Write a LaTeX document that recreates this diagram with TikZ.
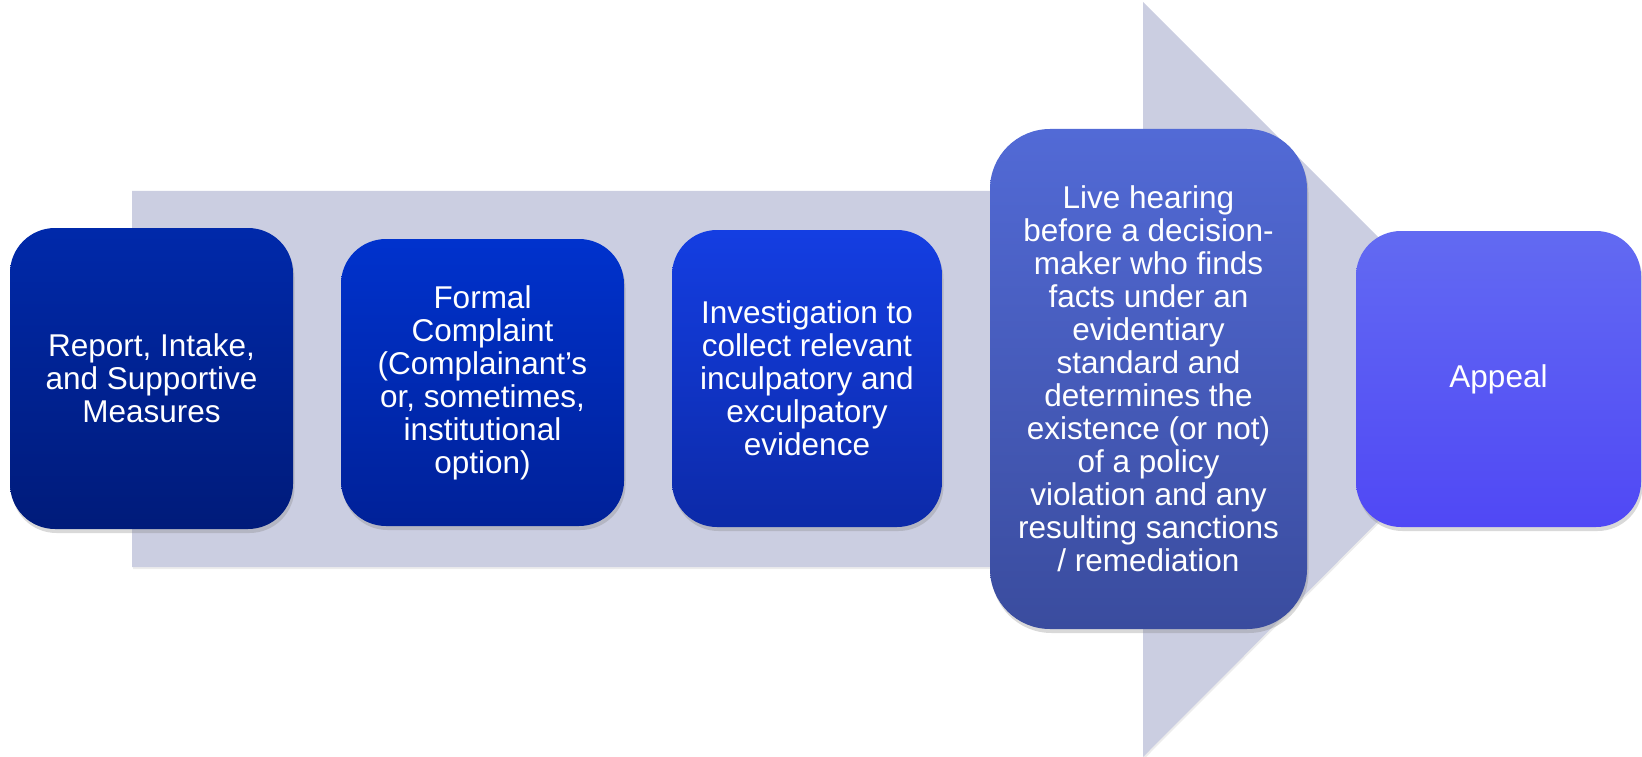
\documentclass[tikz,border=0pt]{standalone}
\usepackage{fontspec}
\setmainfont{Liberation Sans}
\usepackage{xcolor}
\usetikzlibrary{shadows}

\definecolor{shaftgray}{RGB}{203,206,225}
\definecolor{sAtop}{RGB}{0,41,170}
\definecolor{sAbot}{RGB}{0,27,122}
\definecolor{sBtop}{RGB}{0,50,205}
\definecolor{sBbot}{RGB}{0,33,152}
\definecolor{sCtop}{RGB}{20,62,226}
\definecolor{sCbot}{RGB}{12,42,168}
\definecolor{sDtop}{RGB}{82,106,214}
\definecolor{sDbot}{RGB}{58,76,158}
\definecolor{sEtop}{RGB}{98,106,242}
\definecolor{sEbot}{RGB}{80,72,245}

\begin{document}
\begin{tikzpicture}[
  x=1pt, y=-1pt,
  stage/.style={rounded corners=45pt, inner sep=0pt, align=center, text=white,
    font=\fontsize{31.5}{33}\selectfont,
    drop shadow={opacity=0.3, shadow xshift=1.5pt, shadow yshift=-4pt}},
  backarrow/.style={fill=shaftgray,
    drop shadow={opacity=0.15, shadow xshift=1pt, shadow yshift=-2pt}}
]
  \useasboundingbox (0,0) rectangle (1642,757);

  % Big background arrow: shaft then head
  \path[backarrow] (132,191) -- (1143,191) -- (1143,2) -- (1520,379)
    -- (1143,757) -- (1143,567) -- (132,567) -- cycle;

  % Stages, left to right
  \node[stage, minimum width=283pt, minimum height=301pt,
        top color=sAtop, bottom color=sAbot] (s0) at (151.5,378.5)
    {Report, Intake,\\and Supportive\\Measures};
  \node[stage, minimum width=283pt, minimum height=287pt,
        top color=sBtop, bottom color=sBbot] (s1) at (482.5,382.5)
    {Formal\\Complaint\\(Complainant’s\\or, sometimes,\\institutional\\option)};
  \node[stage, minimum width=270pt, minimum height=297pt,
        top color=sCtop, bottom color=sCbot] (s2) at (807,378.5)
    {Investigation to\\collect relevant\\inculpatory and\\exculpatory\\evidence};
  \node[stage, rounded corners=60pt, minimum width=317pt, minimum height=500pt,
        top color=sDtop, bottom color=sDbot] (s3) at (1148.5,379)
    {Live hearing\\before a decision-\\maker who finds\\facts under an\\evidentiary\\standard and\\determines the\\existence (or not)\\of a policy\\violation and any\\resulting sanctions\\/ remediation};
  \node[stage, minimum width=285pt, minimum height=296pt,
        top color=sEtop, bottom color=sEbot] (s4) at (1498.5,379)
    {Appeal};
\end{tikzpicture}
\end{document}
